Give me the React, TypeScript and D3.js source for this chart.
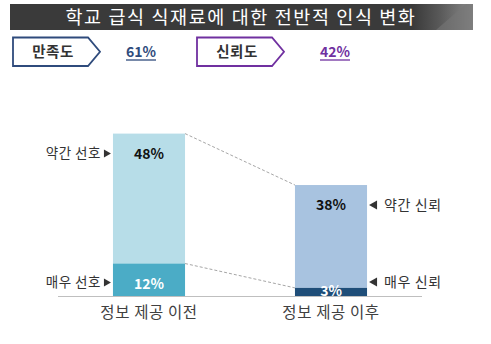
import React from "react";
import * as d3 from "d3";

// stacked values per stage (percent)
const stages = ["정보 제공 이전", "정보 제공 이후"];
const strongValues = [12, 3];
const mildValues = [48, 38];
const strongLabels = ["매우 선호", "매우 신뢰"];
const mildLabels = ["약간 선호", "약간 신뢰"];
const strongColors = ["#4bacc6", "#1f4e79"];
const mildColors = ["#b7dde8", "#a8c3e0"];

// summary badges
const badges = ["만족도", "신뢰도"];
const badgeValues = ["61%", "42%"];
const badgeColors = ["#2f4b7c", "#7030a0"];

const title = "학교 급식 식재료에 대한 전반적 인식 변화";
const FONT = "'Noto Sans CJK KR', 'Noto Sans', sans-serif";

export default function App() {
  const width = 491;
  const height = 344;
  const baseY = 296;

  const x = d3
    .scaleBand<string>()
    .domain(stages)
    .range([58, 422])
    .paddingInner(0.604)
    .paddingOuter(0.302);
  const y = d3.scaleLinear().domain([0, 60]).range([baseY, 133.6]);
  const bw = x.bandwidth();

  const tops = stages.map((_, i) => y(strongValues[i] + mildValues[i]));
  const mids = stages.map((_, i) => y(strongValues[i]));

  const badgePath = (x0: number, y0: number, w: number, h: number) =>
    `M${x0},${y0} H${x0 + w} L${x0 + w + 12},${y0 + h / 2} L${x0 + w},${y0 + h} H${x0} Z`;

  return (
    <svg
      width={width}
      height={height}
      style={{ position: "absolute", left: 0, top: 0, background: "#fff" }}
      fontFamily={FONT}
    >
      <defs>
        <linearGradient id="titleGrad" x1="0" x2="1" y1="0" y2="0">
          <stop offset="0" stopColor="#3a3a3a" />
          <stop offset="0.87" stopColor="#3a3a3a" />
          <stop offset="0.93" stopColor="#5a5a5a" />
          <stop offset="1" stopColor="#8a8a8a" />
        </linearGradient>
      </defs>

      {/* title bar */}
      <rect x={10} y={4} width={463} height={26} fill="url(#titleGrad)" />
      <path d="M436,30 L466,4 L473,4 L473,30 Z" fill="#777" opacity={0.6} />
      <text
        x={241}
        y={24}
        textAnchor="middle"
        fill="#fff"
        fontSize={18.5}
        letterSpacing={1.6}
      >
        {title}
      </text>

      {/* badges */}
      {badges.map((b, i) => {
        const bx = i === 0 ? 13 : 197;
        const vx = i === 0 ? 141 : 335;
        return (
          <g key={b}>
            <path
              d={badgePath(bx, 37.5, 75, 28.5)}
              fill="#fff"
              stroke={badgeColors[i]}
              strokeWidth={1.8}
            />
            <text
              x={bx + 40}
              y={57}
              textAnchor="middle"
              fontSize={14.5}
              fontWeight={700}
              fill="#333"
              letterSpacing={0.5}
            >
              {b}
            </text>
            <text
              x={vx}
              y={57}
              textAnchor="middle"
              fontSize={14}
              fontWeight={700}
              fill={badgeColors[i]}
            >
              {badgeValues[i]}
            </text>
            <line
              x1={vx - 15}
              x2={vx + 15}
              y1={60}
              y2={60}
              stroke={badgeColors[i]}
              strokeWidth={1.3}
            />
          </g>
        );
      })}

      {/* connector lines between stacks */}
      {[tops, mids].map((ys, k) => (
        <line
          key={k}
          x1={(x(stages[0]) ?? 0) + bw}
          y1={ys[0]}
          x2={x(stages[1]) ?? 0}
          y2={ys[1]}
          stroke="#a6a6a6"
          strokeDasharray="3,2"
          strokeWidth={1}
        />
      ))}

      {/* bars */}
      {stages.map((s, i) => {
        const bx = x(s) ?? 0;
        const cx = bx + bw / 2;
        const total = strongValues[i] + mildValues[i];
        return (
          <g key={s}>
            <rect
              x={bx}
              y={y(total)}
              width={bw}
              height={y(strongValues[i]) - y(total)}
              fill={mildColors[i]}
            />
            <rect
              x={bx}
              y={y(strongValues[i])}
              width={bw}
              height={baseY - y(strongValues[i])}
              fill={strongColors[i]}
            />
            <text
              x={cx}
              y={y(total) + 25}
              textAnchor="middle"
              fontSize={14}
              fontWeight={700}
              fill="#111"
            >
              {mildValues[i]}%
            </text>
            <text
              x={cx}
              y={i === 0 ? y(strongValues[i]) + 25 : baseY - 0.5}
              textAnchor="middle"
              fontSize={14}
              fontWeight={700}
              fill="#fff"
            >
              {strongValues[i]}%
            </text>
            <text
              x={cx}
              y={318}
              textAnchor="middle"
              fontSize={15.5}
              fill="#404040"
              letterSpacing={0.6}
            >
              {s}
            </text>
          </g>
        );
      })}

      {/* side labels */}
      {stages.map((s, i) => {
        const bx = x(s) ?? 0;
        const total = strongValues[i] + mildValues[i];
        const mildY = y(total) + 20;
        const strongY = i === 0 ? y(strongValues[i]) + 19 : y(strongValues[i]) - 6;
        if (i === 0) {
          const tx = bx - 2;
          return (
            <g key={s}>
              {[mildY, strongY].map((ly, k) => (
                <g key={k}>
                  <path d={`M${tx - 7},${ly - 4} L${tx},${ly} L${tx - 7},${ly + 4} Z`} fill="#333" />
                  <text x={tx - 10} y={ly + 4.5} textAnchor="end" fontSize={13.5} fill="#333" letterSpacing={0.5}>
                    {k === 0 ? mildLabels[i] : strongLabels[i]}
                  </text>
                </g>
              ))}
            </g>
          );
        }
        const tx = bx + bw + 2;
        return (
          <g key={s}>
            {[mildY, strongY].map((ly, k) => (
              <g key={k}>
                <path d={`M${tx + 8},${ly - 4.5} L${tx},${ly} L${tx + 8},${ly + 4.5} Z`} fill="#333" />
                <text x={tx + 15} y={ly + 5} fontSize={14} fill="#333" letterSpacing={0.6}>
                  {k === 0 ? mildLabels[i] : strongLabels[i]}
                </text>
              </g>
            ))}
          </g>
        );
      })}

      {/* baseline */}
      <line x1={58} x2={422} y1={baseY + 0.5} y2={baseY + 0.5} stroke="#bfbfbf" strokeWidth={1.2} />
    </svg>
  );
}
